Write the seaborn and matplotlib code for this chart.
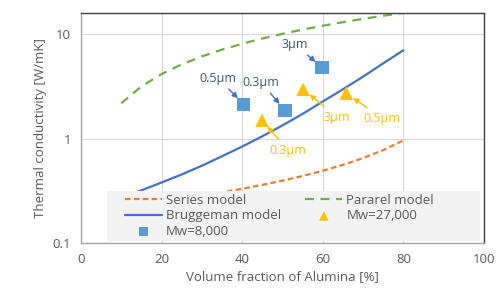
import numpy as np
import pandas as pd
import seaborn as sns
import matplotlib.pyplot as plt
from matplotlib.patches import Rectangle

# model curves (volume fraction %, W/mK)
fraction = [10, 15, 20, 25, 30, 35, 40, 45, 50, 55, 60, 65, 70, 75, 80]
series_model = [0.222, 0.235, 0.249, 0.266, 0.284, 0.306, 0.331, 0.361, 0.396,
                0.439, 0.493, 0.561, 0.651, 0.777, 0.962]
parallel_model = [2.18, 3.17, 4.16, 5.15, 6.14, 7.13, 8.12, 9.11, 10.1,
                  11.09, 12.08, 13.07, 14.06, 15.05, 16.04]
bruggeman_model = [0.272, 0.32, 0.38, 0.454, 0.55, 0.678, 0.84, 1.054, 1.34,
                   1.728, 2.27, 2.975, 3.93, 5.27, 7.03]

# measured points
mw8000_x = [40.4, 50.6, 59.8]
mw8000_y = [2.14, 1.87, 4.83]
mw8000_labels = ['0.5\u03bcm', '0.3\u03bcm', '3\u03bcm']
mw27000_x = [44.9, 55.1, 65.8]
mw27000_y = [1.50, 2.98, 2.73]
mw27000_labels = ['0.3\u03bcm', '3\u03bcm', '0.5\u03bcm']

sns.set_style('white')
plt.rcParams['font.family'] = ['Open Sans', 'DejaVu Sans']
TXT = '#595959'

fig = plt.figure(figsize=(4.99, 2.98), dpi=100)
ax = fig.add_axes([0.1623, 0.1846, 0.8077, 0.7718])

df = pd.DataFrame({'x': fraction, 'series': series_model,
                   'parallel': parallel_model, 'brug': bruggeman_model})

sns.lineplot(data=df, x='x', y='series', ax=ax, color='#ED7D31', lw=1.6,
             label='Series model').lines[-1].set_dashes([2.5, 1.5])
sns.lineplot(data=df, x='x', y='parallel', ax=ax, color='#70AD47', lw=1.6,
             label='Pararel model').lines[-1].set_dashes([4, 3])
sns.lineplot(data=df, x='x', y='brug', ax=ax, color='#4472C4', lw=1.6,
             label='Bruggeman model')
sns.scatterplot(x=mw27000_x, y=mw27000_y, ax=ax, marker='^', s=95,
                color='#FFC000', edgecolor='none', label='Mw=27,000', zorder=5)
sns.scatterplot(x=mw8000_x, y=mw8000_y, ax=ax, marker='s', s=90,
                color='#5B9BD5', edgecolor='none', label='Mw=8,000', zorder=5)

# annotations (text positions in data coords)
blue_text = [(34.0, 3.79), (44.7, 3.47), (53.1, 8.0)]
for (tx, ty), x, y, lab in zip(blue_text, mw8000_x, mw8000_y, mw8000_labels):
    ax.annotate(lab, xy=(x, y), xytext=(tx, ty), ha='center', va='center',
                fontsize=9, color='#44546A',
                arrowprops=dict(arrowstyle='-|>', color='#4472C4', lw=1,
                                mutation_scale=8, shrinkA=1, shrinkB=6))
yellow_text = [(51.4, 0.776), (63.5, 1.61), (74.7, 1.57)]
for (tx, ty), x, y, lab in zip(yellow_text, mw27000_x, mw27000_y, mw27000_labels):
    ax.annotate(lab, xy=(x, y), xytext=(tx, ty), ha='center', va='center',
                fontsize=9, color='#FFC000',
                arrowprops=dict(arrowstyle='-|>', color='#FFC000', lw=1,
                                mutation_scale=8, shrinkA=1, shrinkB=6))

ax.set_yscale('log')
ax.set_xlim(0, 100)
ax.set_ylim(0.1, 16)
ax.set_xticks([0, 20, 40, 60, 80, 100])
ax.set_yticks([0.1, 1, 10])
ax.set_yticklabels(['0.1', '1', '10'])
ax.minorticks_off()
ax.grid(True, color='#d9d9d9', lw=0.9)
ax.tick_params(length=0, labelsize=9.5, colors=TXT, pad=7)
ax.set_xlabel('Volume fraction of Alumina [%]', fontsize=9.5, color=TXT, labelpad=3)
ax.set_ylabel('Thermal conductivity [W/mK]', fontsize=9.5, color=TXT, labelpad=4)

for s in ['top', 'right']:
    ax.spines[s].set_color('#404040')
for s in ['left', 'bottom']:
    ax.spines[s].set_color('#a6a6a6')
for s in ax.spines.values():
    s.set_linewidth(1)

# legend background box, covering the curves like the Excel legend does
ax.add_patch(Rectangle((0.0645, 0.009), 0.925, 0.217, transform=ax.transAxes,
                       facecolor='#f2f2f2', edgecolor='none', zorder=4.5))

# column-major fill: col1 = Series, Bruggeman, Mw=8,000; col2 = Pararel, Mw=27,000
handles, labels = ax.get_legend_handles_labels()
order = [0, 2, 4, 1, 3]
leg = ax.legend([handles[i] for i in order], [labels[i] for i in order],
                ncol=2, loc='upper left', bbox_to_anchor=(0.109, 0.215),
                borderaxespad=0, borderpad=0, fontsize=9.5, frameon=False,
                handlelength=2.8, handletextpad=0.3, labelspacing=0.22,
                columnspacing=1.85, markerscale=0.7)
leg.set_zorder(6)
for t in leg.get_texts():
    t.set_color(TXT)

fig.savefig('out.png', dpi=100)
